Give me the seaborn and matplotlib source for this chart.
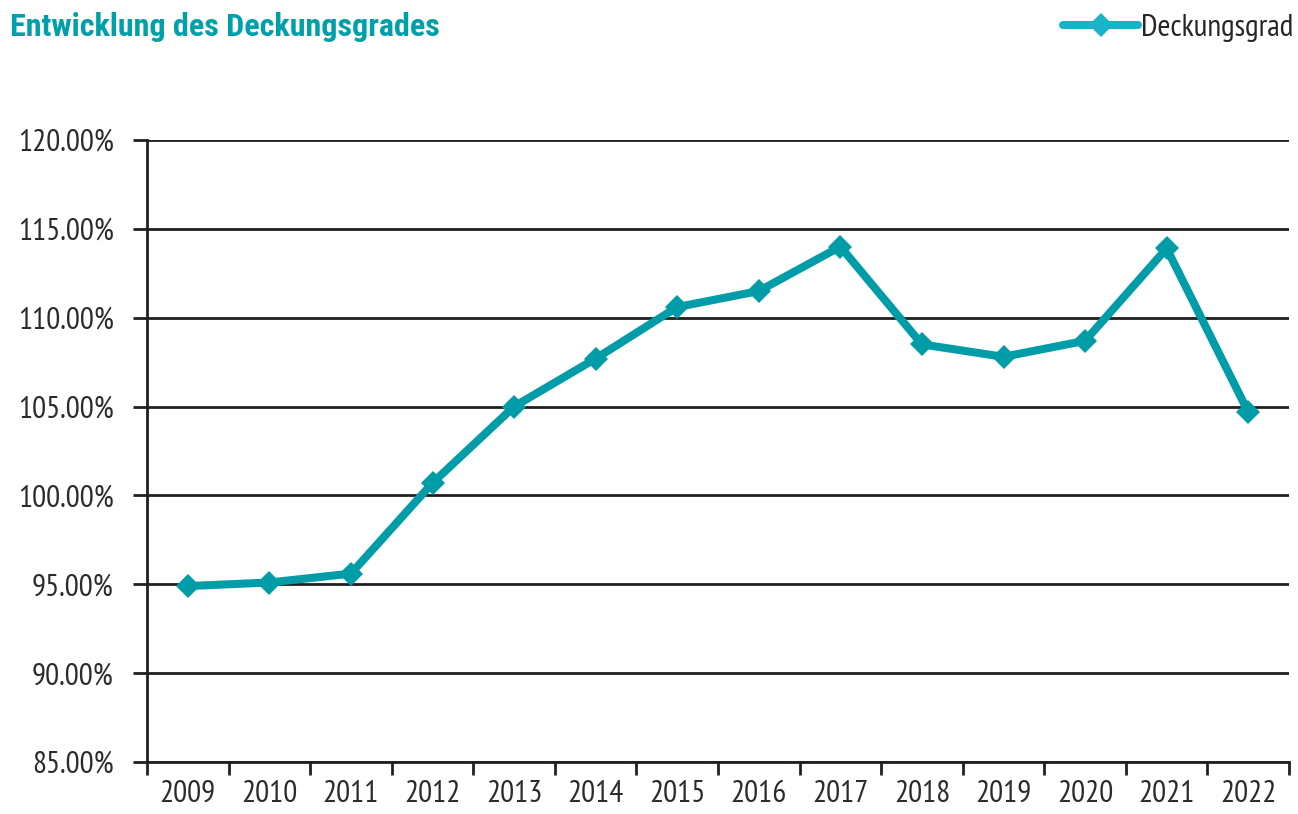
import matplotlib
matplotlib.use("Agg")
import matplotlib.pyplot as plt
from matplotlib.lines import Line2D
from matplotlib.ticker import FixedLocator, FuncFormatter
import seaborn as sns
import pandas as pd
import numpy as np

years = ["2009", "2010", "2011", "2012", "2013", "2014", "2015",
         "2016", "2017", "2018", "2019", "2020", "2021", "2022"]
coverage = [94.9, 95.1, 95.6, 100.7, 105.0, 107.7, 110.6,
            111.5, 114.0, 108.5, 107.8, 108.7, 113.9, 104.7]
y_ticks = [85, 90, 95, 100, 105, 110, 115, 120]

title = "Entwicklung des Deckungsgrades"
series_name = "Deckungsgrad"

sns.set_theme(style="white")
fam = ["PT Sans Narrow", "Liberation Sans", "DejaVu Sans"]
title_fam = ["Roboto Condensed", "Liberation Sans", "DejaVu Sans"]
plt.rcParams["font.family"] = fam

line_color = "#009DA9"
legend_color = "#1AB2C6"
dark = "#231F20"
label_fs = 22.5

df = pd.DataFrame({"idx": np.arange(len(years)), "value": coverage})

fig = plt.figure(figsize=(12.98, 8.14), dpi=100)
ax = fig.add_axes([147 / 1298, 52 / 814, (1289 - 147) / 1298, (762 - 140) / 814])

sns.lineplot(data=df, x="idx", y="value", ax=ax, color=line_color,
             linewidth=5.8, marker="D", markersize=12.5, markeredgewidth=0,
             markerfacecolor=line_color, zorder=5)

ax.set_xlim(-0.5, len(years) - 0.5)
ax.set_ylim(85, 120)
ax.set_xlabel("")
ax.set_ylabel("")

ax.yaxis.set_major_locator(FixedLocator(y_ticks))
ax.yaxis.set_major_formatter(FuncFormatter(lambda v, p: f"{v:.2f}%"))
ax.grid(axis="y", color=dark, linewidth=2, zorder=1)
ax.set_axisbelow(True)

ax.xaxis.set_major_locator(FixedLocator(np.arange(-0.5, len(years), 1.0)))
ax.xaxis.set_major_formatter(FuncFormatter(lambda v, p: ""))
ax.xaxis.set_minor_locator(FixedLocator(np.arange(len(years))))
ax.set_xticklabels(years, minor=True)

ax.tick_params(axis="x", which="major", direction="out", length=9, width=2,
               color=dark, bottom=True)
ax.tick_params(axis="x", which="minor", length=0, pad=13, labelsize=label_fs,
               labelcolor="#2b2b2b")
ax.tick_params(axis="y", which="major", direction="out", length=10, width=2,
               color=dark, left=True, pad=14, labelsize=label_fs, labelcolor="#2b2b2b")

for s in ["top", "right"]:
    ax.spines[s].set_visible(False)
for s in ["left", "bottom"]:
    ax.spines[s].set_color(dark)
    ax.spines[s].set_linewidth(2)

fig.text(10 / 1298, 1 - 27 / 814, title, color="#00A0AA", fontsize=23,
         fontweight="bold", ha="left", va="center", family=title_fam)

handle = Line2D([0], [0], color=legend_color, linewidth=5.8, marker="D",
                markersize=12.5, markeredgewidth=0, markerfacecolor=legend_color)
fig.legend([handle], [series_name], loc="upper right",
           bbox_to_anchor=(1.011, 1.006), frameon=False, fontsize=label_fs,
           handlelength=2.4, handletextpad=0.1, borderaxespad=0.2)

fig.savefig("out.png", dpi=100)
